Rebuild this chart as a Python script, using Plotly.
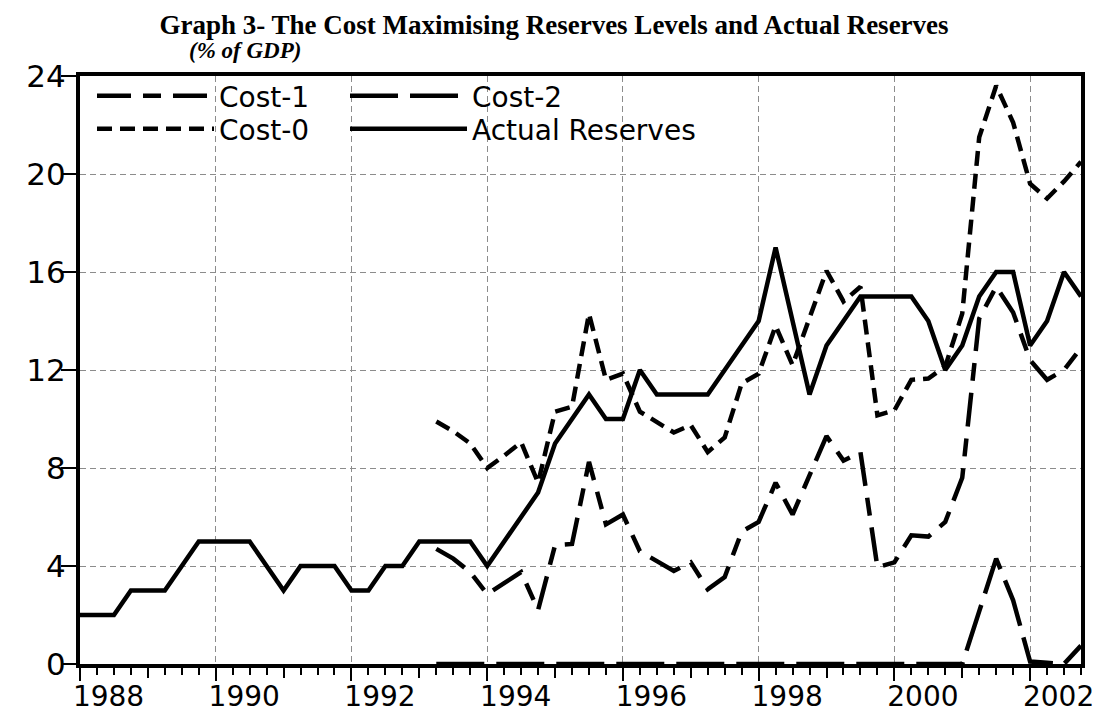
import plotly.graph_objects as go

# ---------------- data (quarterly, 1988Q1 .. 2002Q4) ----------------
start_year = 1988
n_quarters = 60

actual_reserves = [2, 2, 2, 3, 3, 3, 4, 5, 5, 5, 5, 4, 3, 4, 4, 4, 3, 3, 4, 4,
                   5, 5, 5, 5, 4, 5, 6, 7, 9, 10, 11, 10, 10, 12, 11, 11, 11, 11, 12, 13,
                   14, 17, 14, 11, 13, 14, 15, 15, 15, 15, 14, 12, 13, 15, 16, 16, 13, 14, 16, 15]

# cost series start in 1993Q2 (index 21)
cost_start = 21
cost_0 = [9.9, 9.5, 9.0, 8.0, 8.5, 9.05, 7.4, 10.3, 10.5, 14.3,
          11.6, 11.85, 10.3, 9.9, 9.45, 9.75, 8.65, 9.25, 11.45, 11.85,
          13.8, 12.2, 14.1, 16.05, 14.8, 15.4, 10.15, 10.35, 11.6, 11.65,
          12.15, 14.3, 21.5, 23.6, 22.1, 19.6, 19.0, 19.7, 20.5]
cost_1 = [4.7, 4.3, 3.75, 2.85, 3.3, 3.75, 2.2, 4.85, 4.9, 8.25,
          5.7, 6.1, 4.6, 4.2, 3.8, 4.15, 3.05, 3.55, 5.4, 5.8,
          7.4, 6.1, 7.7, 9.3, 8.3, 8.65, 3.95, 4.15, 5.25, 5.2,
          5.8, 7.6, 14.1, 15.4, 14.35, 12.4, 11.6, 12.0, 12.9]
cost_2 = [0.0, 0.0, 0.0, 0.0, 0.0, 0.0, 0.0, 0.0, 0.0, 0.0,
          0.0, 0.0, 0.0, 0.0, 0.0, 0.0, 0.0, 0.0, 0.0, 0.0,
          0.0, 0.0, 0.0, 0.0, 0.0, 0.0, 0.0, 0.0, 0.0, 0.0,
          0.0, 0.0, 2.15, 4.3, 2.6, 0.1, 0.05, 0.0, 0.75]

x_tick_labels = ["1988", "1990", "1992", "1994", "1996", "1998", "2000", "2002"]
y_tick_values = [0, 4, 8, 12, 16, 20, 24]

title_text = "Graph 3- The Cost Maximising Reserves Levels and Actual Reserves"
subtitle_text = "(% of GDP)"

# ---------------- derived positions ----------------
x_all = [start_year + i / 4 for i in range(n_quarters)]
x_cost = x_all[cost_start:]
label_years = [int(s) for s in x_tick_labels]
even_years = label_years
odd_years = [y + 1 for y in label_years if y + 1 <= 2002]
label_pos = [y + 0.42 for y in label_years]

FONT = "DejaVu Sans"
W = 4.5
GRID = "#8c8c8c"

fig = go.Figure()
fig.add_trace(go.Scatter(x=x_cost, y=cost_1, mode="lines", name="Cost-1",
                         line=dict(color="black", width=W, dash="34px,12px,18px,12px"),
                         legend="legend"))
fig.add_trace(go.Scatter(x=x_cost, y=cost_0, mode="lines", name="Cost-0",
                         line=dict(color="black", width=W, dash="15px,8px"),
                         legend="legend2"))
fig.add_trace(go.Scatter(x=x_cost, y=cost_2, mode="lines", name="Cost-2",
                         line=dict(color="black", width=W, dash="48px,12px"),
                         legend="legend3"))
fig.add_trace(go.Scatter(x=x_all, y=actual_reserves, mode="lines", name="Actual Reserves",
                         line=dict(color="black", width=W),
                         legend="legend4"))

# page body has an 8px margin: figure is drawn at (8, 8) on screen
OFF = 8
FW, FH = 1104 - OFF, 715 - OFF
PL, PR, PT, PB = 80, 1081, 76, 664          # plot area in screen pixels
L, R, T, B = PL - OFF, FW - (PR - OFF), PT - OFF, FH - (PB - OFF)
ph = PB - PT
pw = PR - PL

def py(pix):
    return 1 - (pix - PT) / ph

def px(pix):
    return (pix - PL) / pw

leg_common = dict(bgcolor="rgba(0,0,0,0)", font=dict(family=FONT, size=28, color="black"),
                  itemwidth=117, xanchor="left", yanchor="middle", borderwidth=0,
                  itemclick=False)

fig.update_layout(
    width=FW, height=FH,
    margin=dict(l=L, r=R, t=T, b=B, autoexpand=False),
    paper_bgcolor="white", plot_bgcolor="white",
    title=dict(text="<b>" + title_text + "</b>", x=(554 - OFF) / FW, xanchor="center",
               y=1 - (25 - OFF) / FH, yanchor="middle", yref="container",
               font=dict(family="Liberation Serif", size=27, color="black")),
    legend=dict(x=px(92), y=py(96), **leg_common),
    legend2=dict(x=px(92), y=py(129), **leg_common),
    legend3=dict(x=px(345), y=py(96), **leg_common),
    legend4=dict(x=px(345), y=py(129), **leg_common),
    annotations=[dict(text="<b><i>" + subtitle_text + "</i></b>", xref="paper", yref="paper",
                      x=px(245), y=py(50), xanchor="center", yanchor="middle", showarrow=False,
                      font=dict(family="Liberation Serif", size=23, color="black"))],
    xaxis=dict(range=[1988, 2002.75], tickvals=even_years, showticklabels=False,
               ticks="outside", ticklen=13, tickwidth=2, tickcolor="black", automargin=False,
               showgrid=True, gridcolor=GRID, griddash="6px,4px", gridwidth=1,
               minor=dict(dtick=0.25, tick0=1988, ticks="outside", ticklen=7, tickwidth=2,
                          tickcolor="black", showgrid=False),
               showline=True, linecolor="black", linewidth=3.5, mirror=True, zeroline=False),
    xaxis2=dict(overlaying="x", matches="x", anchor="y", side="bottom", tickvals=odd_years,
                showticklabels=False, ticks="outside", ticklen=13, tickwidth=2, tickcolor="black",
                showgrid=False, showline=False, zeroline=False, automargin=False),
    xaxis3=dict(overlaying="x", matches="x", anchor="y", side="bottom",
                tickvals=label_pos, ticktext=x_tick_labels, ticks="outside", ticklen=7,
                tickcolor="rgba(0,0,0,0)", showgrid=False, showline=False, zeroline=False,
                automargin=False, tickfont=dict(family=FONT, size=28, color="black")),
    yaxis=dict(range=[0, 24], tickvals=y_tick_values, showticklabels=False,
               ticks="outside", ticklen=15, tickwidth=2, automargin=False,
               tickcolor="black", showgrid=True, gridcolor=GRID, griddash="6px,4px", gridwidth=1,
               showline=True, linecolor="black", linewidth=3.5, mirror=True, zeroline=False),
    yaxis2=dict(overlaying="y", matches="y", anchor="x", side="left", tickvals=y_tick_values,
                ticks="outside", ticklen=7, tickcolor="rgba(0,0,0,0)", showgrid=False,
                showline=False, zeroline=False, automargin=False,
                tickfont=dict(family=FONT, size=31, color="black")),
)

# invisible traces to activate overlay axes
fig.add_trace(go.Scatter(x=[1988], y=[None], xaxis="x2", showlegend=False, hoverinfo="skip"))
fig.add_trace(go.Scatter(x=[1988], y=[None], xaxis="x3", showlegend=False, hoverinfo="skip"))
fig.add_trace(go.Scatter(x=[1988], y=[None], yaxis="y2", showlegend=False, hoverinfo="skip"))

fig.write_html("out.html")
